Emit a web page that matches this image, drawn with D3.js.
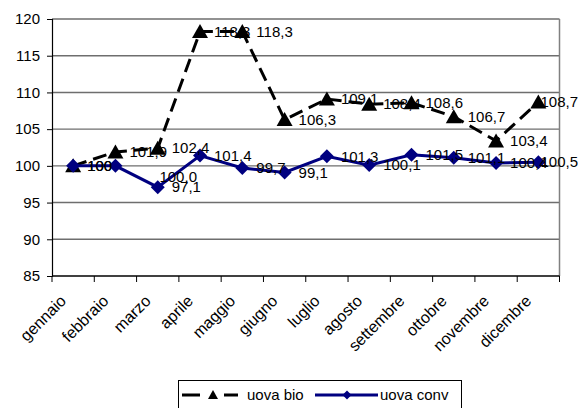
<!DOCTYPE html>
<html><head><meta charset="utf-8">
<script src="https://cdn.jsdelivr.net/npm/d3@7"></script>
<style>
html,body{margin:0;padding:0;background:#fff;}
text{font-family:"Liberation Sans",Arial,sans-serif;}
</style>
</head><body>
<svg id="c" width="578" height="408"></svg>
<script>
const months = ["gennaio","febbraio","marzo","aprile","maggio","giugno","luglio","agosto","settembre","ottobre","novembre","dicembre"];
const uovaBio  = [100, 101.9, 102.4, 118.3, 118.3, 106.3, 109.1, 108.4, 108.6, 106.7, 103.4, 108.7];
const uovaConv = [100, 100.0, 97.1, 101.4, 99.7, 99.1, 101.3, 100.1, 101.5, 101.1, 100.4, 100.5];
const yTicks = [85, 90, 95, 100, 105, 110, 115, 120];
const seriesNames = ["uova bio", "uova conv"];

const W = 578, H = 408;
const L = 52, R = 559.5, T = 19, B = 276;
const svg = d3.select("#c");
svg.append("rect").attr("width", W).attr("height", H).attr("fill", "#fff");

const x = d3.scaleBand().domain(months).range([L, R]).padding(0);
const y = d3.scaleLinear().domain([85, 120]).range([B, T]);
const cx = m => x(m) + x.bandwidth() / 2;

// gridlines
svg.append("g").selectAll("line").data(yTicks.filter(t => t !== 85)).join("line")
  .attr("x1", L).attr("x2", R).attr("y1", d => y(d)).attr("y2", d => y(d))
  .attr("stroke", "#6e6e6e").attr("stroke-width", 1.4);
// right border
svg.append("line").attr("x1", R).attr("x2", R).attr("y1", T).attr("y2", B)
  .attr("stroke", "#808080").attr("stroke-width", 1.5);

// y axis
const yAxis = d3.axisLeft(y).tickValues(yTicks).tickSize(5).tickPadding(7).tickFormat(d3.format("d"));
const gy = svg.append("g").attr("transform", `translate(${L},0)`).call(yAxis);
gy.select(".domain").attr("stroke", "#000").attr("stroke-width", 1.2);
gy.selectAll(".tick line").attr("stroke", "#000");
gy.selectAll("text").attr("font-size", 15).attr("fill", "#000").attr("font-family", "Liberation Sans, Arial, sans-serif");

// x axis
const gx = svg.append("g").attr("transform", `translate(0,${B})`);
gx.append("line").attr("x1", L).attr("x2", R).attr("stroke", "#000").attr("stroke-width", 1.5);
const bounds = months.map(m => x(m)).concat([R]);
gx.selectAll("line.tk").data(bounds).join("line").attr("class", "tk")
  .attr("x1", d => d).attr("x2", d => d).attr("y1", 0).attr("y2", 6).attr("stroke", "#000");
svg.append("g").selectAll("text").data(months).join("text")
  .attr("transform", d => `translate(${cx(d) - 6},${302}) rotate(-45)`)
  .attr("text-anchor", "end").attr("font-size", 16).attr("fill", "#000")
  .text(d => d);

// series
const lineGen = vals => d3.line().x((d, i) => cx(months[i])).y(d => y(d))(vals);
svg.append("path").attr("d", lineGen(uovaBio)).attr("fill", "none")
  .attr("stroke", "#000").attr("stroke-width", 3).attr("stroke-dasharray", "14,7");
const tri = "M0,-7.5L8,6.5L-8,6.5Z";
svg.append("g").selectAll("path").data(uovaBio).join("path")
  .attr("d", tri).attr("fill", "#000")
  .attr("transform", (d, i) => `translate(${cx(months[i])},${y(d)})`);

svg.append("path").attr("d", lineGen(uovaConv)).attr("fill", "none")
  .attr("stroke", "#000080").attr("stroke-width", 3);
const dia = "M0,-7L7,0L0,7L-7,0Z";
svg.append("g").selectAll("path").data(uovaConv).join("path")
  .attr("d", dia).attr("fill", "#000080")
  .attr("transform", (d, i) => `translate(${cx(months[i])},${y(d)})`);

// data labels
const fmt = (v, i) => i === 0 ? d3.format("d")(v) : d3.format(".1f")(v).replace(".", ",");
function labels(vals, nudge) {
  const g = svg.append("g");
  vals.forEach((v, i) => {
    const n = nudge[i] || [0, 0];
    const t = g.append("text").attr("font-size", 15).attr("fill", "#000")
      .attr("x", cx(months[i]) + 14 + n[0]).attr("y", y(v) + n[1]).attr("dy", "0.35em")
      .text(fmt(v, i));
    const w = t.node().getComputedTextLength();
    const xx = +t.attr("x");
    if (xx + w > W) t.attr("x", W - w);
  });
}
labels(uovaBio, {});
labels(uovaConv, {1: [30, 11]});

// legend
const lg = svg.append("g");
lg.append("rect").attr("x", 178.5).attr("y", 380.5).attr("width", 283).attr("height", 28)
  .attr("fill", "#fff").attr("stroke", "#000").attr("stroke-width", 1);
const ly = 395;
lg.append("line").attr("x1", 182).attr("x2", 200).attr("y1", ly).attr("y2", ly).attr("stroke", "#000").attr("stroke-width", 3);
lg.append("line").attr("x1", 224).attr("x2", 238).attr("y1", ly).attr("y2", ly).attr("stroke", "#000").attr("stroke-width", 3);
lg.append("path").attr("d", "M0,-5L5,4L-5,4Z").attr("fill", "#000").attr("transform", `translate(213,${ly})`);
lg.append("text").attr("x", 247).attr("y", ly).attr("dy", "0.35em").attr("font-size", 15).text(seriesNames[0]);
lg.append("line").attr("x1", 315).attr("x2", 378).attr("y1", ly).attr("y2", ly).attr("stroke", "#000080").attr("stroke-width", 3);
lg.append("path").attr("d", "M0,-4.5L4.5,0L0,4.5L-4.5,0Z").attr("fill", "#000080").attr("transform", `translate(347,${ly})`);
lg.append("text").attr("x", 380).attr("y", ly).attr("dy", "0.35em").attr("font-size", 15).text(seriesNames[1]);
</script>
</body></html>
